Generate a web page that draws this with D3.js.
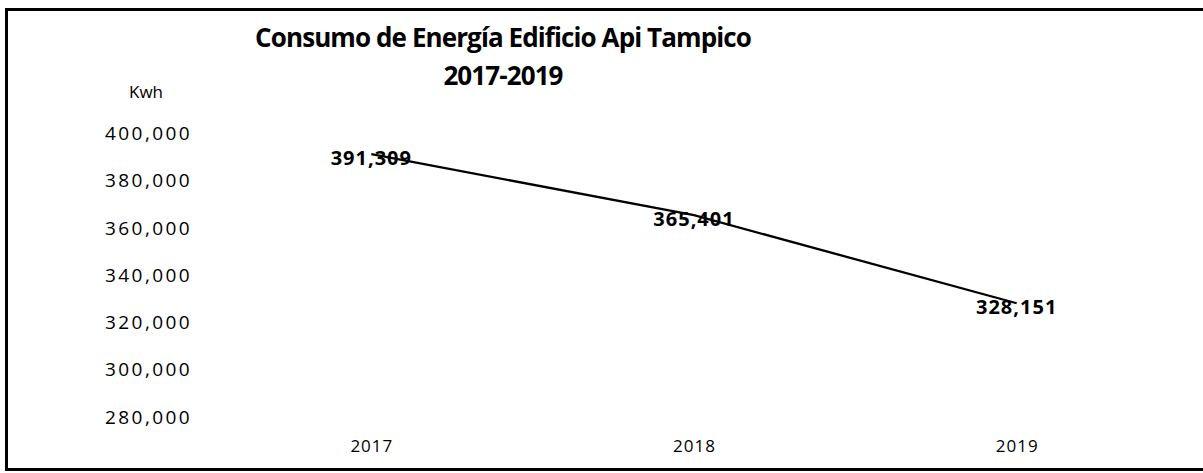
<!DOCTYPE html>
<html>
<head>
<meta charset="utf-8">
<script src="https://cdn.jsdelivr.net/npm/d3@7"></script>
<style>
  body { margin: 0; background: #fff; }
  svg { display: block; font-family: 'Open Sans', sans-serif; }
</style>
</head>
<body>
<svg id="chart"></svg>
<script>
'use strict'

const years = ['2017', '2018', '2019']
const consumo = [391309, 365401, 328151]
const yTicks = [280000, 300000, 320000, 340000, 360000, 380000, 400000]
const titleLines = ['Consumo de Energía Edificio Api Tampico', '2017-2019']
const unitLabel = 'Kwh'

const width = 1203
const height = 473

const svg = d3.select('#chart')
  .attr('width', width)
  .attr('height', height)

// frame (scanned page: left, top and bottom edges visible)
svg.append('path')
  .attr('d', 'M1210,9.5 H6.5 V469.5 H1210')
  .attr('fill', 'none')
  .attr('stroke', '#000')
  .attr('stroke-width', 3)

const x = d3.scalePoint()
  .domain(years)
  .range([210, 1178])
  .padding(0.5)

const y = d3.scaleLinear()
  .domain([280000, 400000])
  .range([417, 133.5])

const fmt = d3.format(',')

// title
svg.append('g')
  .selectAll('text')
  .data(titleLines)
  .enter()
  .append('text')
  .attr('x', 503)
  .attr('y', (d, i) => 47 + i * 38)
  .attr('text-anchor', 'middle')
  .style('font-size', '26px')
  .style('font-weight', 700)
  .style('letter-spacing', '-0.9px')
  .text((d) => d)

svg.append('text')
  .attr('x', 146)
  .attr('y', 98)
  .attr('text-anchor', 'middle')
  .style('font-size', '17px')
  .text(unitLabel)

// y axis (labels only)
const yAxis = d3.axisLeft(y)
  .tickValues(yTicks)
  .tickFormat(fmt)
  .tickSize(0)
  .tickPadding(0)

const gy = svg.append('g')
  .attr('transform', 'translate(192,0)')
  .call(yAxis)
gy.select('.domain').remove()
gy.selectAll('text')
  .attr('fill', '#000')
  .style('font-family', "'Open Sans', sans-serif")
  .style('font-size', '19px')
  .style('letter-spacing', '2.4px')

// x axis (labels only)
const xAxis = d3.axisBottom(x).tickSize(0).tickPadding(0)
const gx = svg.append('g')
  .attr('transform', 'translate(0,440)')
  .call(xAxis)
gx.select('.domain').remove()
gx.selectAll('text')
  .attr('fill', '#000')
  .style('font-family', "'Open Sans', sans-serif")
  .style('font-size', '17px')
  .style('letter-spacing', '1px')

// line
const line = d3.line()
  .x((d, i) => x(years[i]))
  .y((d) => y(d))

svg.append('path')
  .datum(consumo)
  .attr('d', line)
  .attr('fill', 'none')
  .attr('stroke', '#000')
  .attr('stroke-width', 2.3)

// data labels
svg.append('g')
  .selectAll('text')
  .data(consumo)
  .enter()
  .append('text')
  .attr('x', (d, i) => x(years[i]))
  .attr('y', (d) => y(d) + 3)
  .attr('text-anchor', 'middle')
  .attr('dominant-baseline', 'central')
  .style('font-size', '20px')
  .style('font-weight', 700)
  .style('letter-spacing', '1px')
  .text((d) => fmt(d))
</script>
</body>
</html>
